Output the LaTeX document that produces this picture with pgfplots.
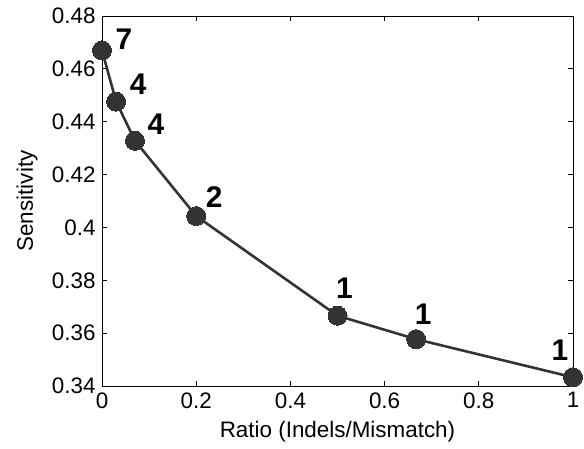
\documentclass[border=0pt]{standalone}
\usepackage{pgfplots}
\pgfplotsset{compat=1.18}
\usepackage{fontspec}
\setmainfont{Liberation Sans}
\definecolor{ink}{RGB}{51,51,51}
\begin{document}
\begin{tikzpicture}
\path[use as bounding box] (-102bp,-63bp) rectangle (482bp,386bp);
\begin{axis}[
  at={(0,0)}, anchor=origin,
  scale only axis,
  width=471bp, height=370bp,
  xmin=0, xmax=1, ymin=0.34, ymax=0.48,
  xtick={0,0.2,...,1.0}, ytick={0.34,0.36,...,0.481},
  tick align=inside, major tick length=5bp,
  xtick pos=both, ytick pos=both,
  axis line style={black, line width=0.8pt},
  tick style={black, line width=0.8pt},
  /pgf/number format/assume math mode=true,
  tick label style={font=\fontsize{22.5}{25}\selectfont},
  label style={font=\fontsize{22.5}{25}\selectfont},
  xticklabel style={yshift=-3bp},
  yticklabel style={xshift=-3bp},
  xlabel={Ratio (Indels/Mismatch)},
  ylabel={Sensitivity},
  xlabel style={at={(axis description cs:0.5,0)}, anchor=center, yshift=-46bp},
  ylabel style={at={(axis description cs:0,0.5)}, anchor=center, yshift=75bp},
  clip=false,
]
\addplot[ink, line width=2.6pt, mark=*, mark size=9.5bp, mark options={fill=ink, draw=ink, line width=0pt}]
  coordinates {(0,0.467)(0.03,0.4476)(0.07,0.4328)(0.2,0.4043)(0.5,0.3666)(0.667,0.3577)(1.0,0.3433)};
\tikzset{lab/.style={font=\fontsize{30}{32}\selectfont\bfseries, text=black}}
\node[lab] at (axis cs:0,0.467) [xshift=22bp, yshift=11bp] {7};
\node[lab] at (axis cs:0.03,0.4476) [xshift=22bp, yshift=17bp] {4};
\node[lab] at (axis cs:0.07,0.4328) [xshift=21bp, yshift=17bp] {4};
\node[lab] at (axis cs:0.2,0.4043) [xshift=18bp, yshift=19bp] {2};
\node[lab] at (axis cs:0.5,0.3666) [xshift=7bp, yshift=27bp] {1};
\node[lab] at (axis cs:0.667,0.3577) [xshift=7bp, yshift=25bp] {1};
\node[lab] at (axis cs:1.0,0.3433) [xshift=-13bp, yshift=27bp] {1};
\end{axis}
\end{tikzpicture}
\end{document}
